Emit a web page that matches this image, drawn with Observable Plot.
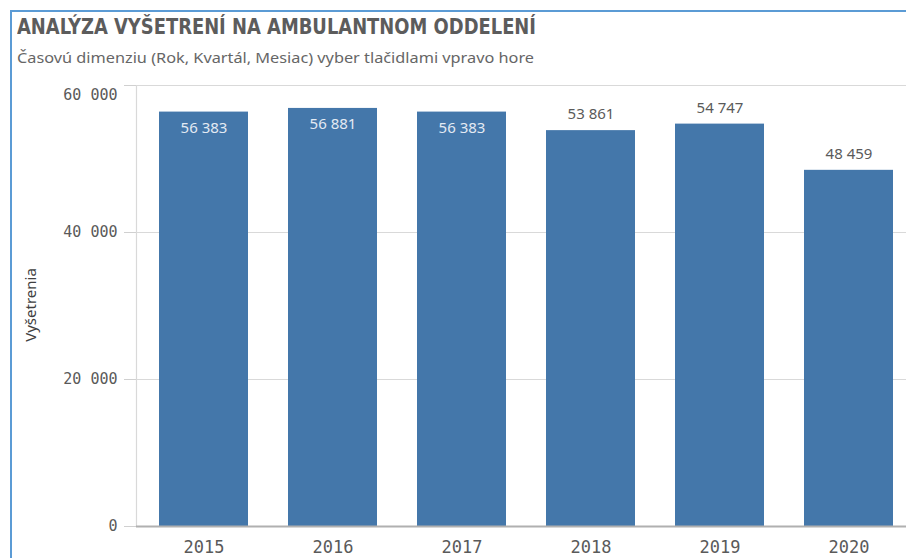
<!DOCTYPE html>
<html>
<head>
<meta charset="utf-8">
<script src="https://cdn.jsdelivr.net/npm/d3@7"></script>
<script src="https://cdn.jsdelivr.net/npm/@observablehq/plot@0.6"></script>
<style>
  body { margin: 0; background: #fff; }
  #wrap { position: relative; width: 906px; height: 558px; overflow: hidden; background: #fff; }
  #bl { position: absolute; left: 10px; top: 10px; width: 2px; height: 560px; background: #5b9bd5; }
  #bt { position: absolute; left: 10px; top: 10px; width: 900px; height: 2px; background: #5b9bd5; }
  #title { position: absolute; left: 17px; top: 17px; font-family: "DejaVu Sans Condensed", "DejaVu Sans", sans-serif; font-weight: bold; font-size: 21px; line-height: 21px; color: #5c5c5c; white-space: nowrap; transform-origin: 0 0; }
  #sub { position: absolute; left: 17px; top: 48px; font-family: "Noto Sans", sans-serif; font-size: 15px; line-height: 18px; color: #666; white-space: nowrap; transform-origin: 0 0; }
  #ylab { position: absolute; left: 30px; top: 305px; font-family: "Noto Sans", sans-serif; font-size: 15px; color: #404040; white-space: nowrap; transform: translate(-50%, -50%) rotate(-90deg); }
  #chart { position: absolute; left: 0; top: 0; width: 917px; }
  #chart svg { max-width: none !important; }
</style>
</head>
<body>
<div id="wrap">
  <div id="chart"></div>
  <div id="bl"></div>
  <div id="bt"></div>
  <div id="title">ANALÝZA VYŠETRENÍ NA AMBULANTNOM ODDELENÍ</div>
  <div id="sub">Časovú dimenziu (Rok, Kvartál, Mesiac) vyber tlačidlami vpravo hore</div>
  <div id="ylab">Vyšetrenia</div>
</div>
<script>
const years = ["2015", "2016", "2017", "2018", "2019", "2020"];
const values = [56383, 56881, 56383, 53861, 54747, 48459];
const yTicks = [0, 20000, 40000, 60000];

const data = years.map((year, i) => ({year, value: values[i]}));
const fmt = d => d3.format(",")(d).replace(/,/g, " ");
const mono = "DejaVu Sans Mono, monospace";

const chart = Plot.plot({
  width: 917,
  height: 558,
  marginLeft: 136,
  marginRight: 0,
  marginTop: 85,
  marginBottom: 32,
  style: {background: "transparent", maxWidth: "none"},
  x: {domain: years, paddingInner: 0.307, paddingOuter: 0.162, label: null},
  y: {domain: [0, 60000], label: null},
  marks: [
    Plot.ruleY(yTicks.filter(d => d > 0), {stroke: "#d9d9d9", strokeWidth: 1.2}),
    Plot.frame({anchor: "left", stroke: "#d9d9d9", strokeWidth: 1.2}),
    Plot.barY(data, {x: "year", y: "value", fill: "#4477aa"}),
    Plot.ruleY([0], {stroke: "#b0b0b0", strokeWidth: 2}),
    Plot.axisY(yTicks, {tickSize: 12, tickPadding: 7, stroke: "#d0d0d0", fill: "#5a5a5a",
      fontFamily: mono, fontSize: 15, tickFormat: d => d === 60000 ? "" : fmt(d), label: null}),
    Plot.axisY([60000], {tickSize: 0, tickPadding: 19, dy: 10, fill: "#5a5a5a",
      fontFamily: mono, fontSize: 15, tickFormat: fmt, label: null}),
    Plot.axisX({tickSize: 0, tickPadding: 14, fill: "#5a5a5a", fontFamily: mono, fontSize: 17, label: null}),
    Plot.text(data.filter(d => d.value > 55000), {x: "year", y: "value", text: d => fmt(d.value),
      dy: 16, fill: "#e3eaf3", fontFamily: "Noto Sans, sans-serif", fontSize: 15, lineAnchor: "middle"}),
    Plot.text(data.filter(d => d.value <= 55000), {x: "year", y: "value", text: d => fmt(d.value),
      dy: -16, fill: "#5a5a5a", fontFamily: "Noto Sans, sans-serif", fontSize: 15, lineAnchor: "middle"})
  ]
});
document.getElementById("chart").appendChild(chart);

function fit(id, target) {
  const el = document.getElementById(id);
  const w = el.getBoundingClientRect().width;
  if (w > 0) el.style.transform = `scaleX(${target / w})`;
}
fit("title", 519);
fit("sub", 517);
</script>
</body>
</html>
